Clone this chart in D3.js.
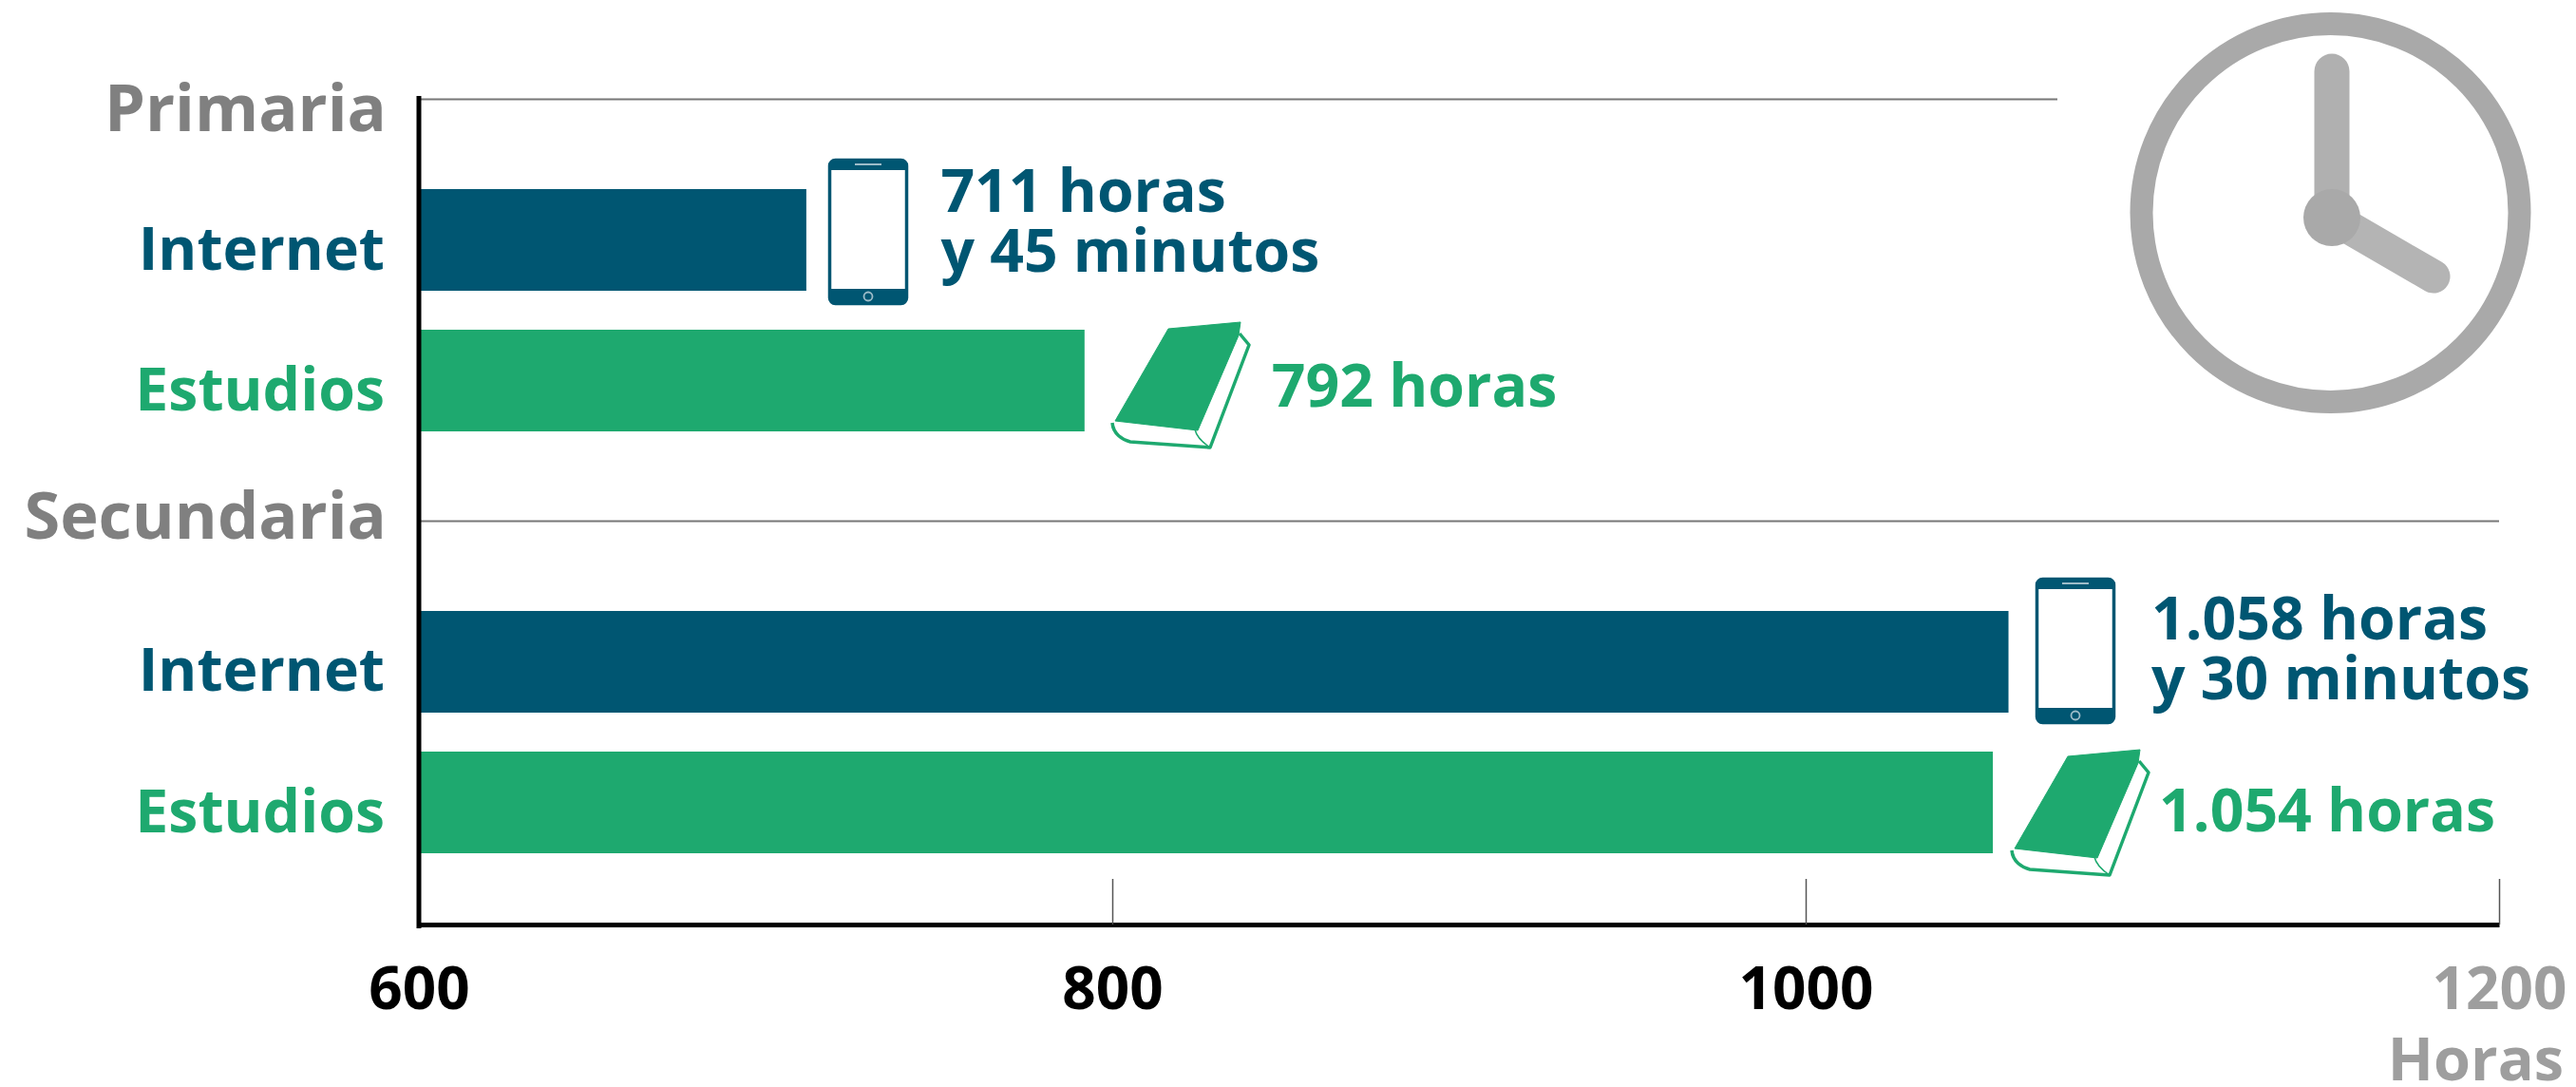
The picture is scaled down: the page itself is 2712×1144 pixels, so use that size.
<!DOCTYPE html>
<html>
<head>
<meta charset="utf-8">
<title>Horas de internet y de estudios</title>
<style>
  html, body { margin: 0; background: #fff; }
  svg { display: block; }
  text { font-family: "Open Sans", sans-serif; font-weight: 700; }
</style>
</head>
<body>
<script src="https://cdn.jsdelivr.net/npm/d3@7"></script>
<script>
var rows = ["primaria", "internet1", "estudios1", "secundaria", "internet2", "estudios2"];
var rowLabels = ["Primaria", "Internet", "Estudios", "Secundaria", "Internet", "Estudios"];
var barRows = ["internet1", "estudios1", "internet2", "estudios2"];
var barHours = [711.75, 792, 1058.5, 1054];
var barLabels = [
  ["711 horas", "y 45 minutos"],
  ["792 horas"],
  ["1.058 horas", "y 30 minutos"],
  ["1.054 horas"]
];
var hourTicks = [600, 800, 1000, 1200];
var axisTitle = "Horas";

var dark = "#005672", green = "#1ea96f", grey = "#808080", light = "#9e9e9e";

var svg = d3.select("body").append("svg")
    .attr("width", 2712)
    .attr("height", 1144);

var x = d3.scaleLinear().domain([600, 1200]).range([441, 2631]);
var y = d3.scaleBand().domain(rows).range([51, 898]).paddingInner(0.277).paddingOuter(0);

function rowColor(r) {
  if (r.indexOf("internet") == 0) return dark;
  if (r.indexOf("estudios") == 0) return green;
  return grey;
}

// group rules, the primaria one stops short of the clock
svg.append("line")
    .attr("x1", x(600)).attr("x2", 2166)
    .attr("y1", y("primaria") + y.bandwidth() / 2).attr("y2", y("primaria") + y.bandwidth() / 2)
    .attr("stroke", "#777").attr("stroke-width", 2);
svg.append("line")
    .attr("x1", x(600)).attr("x2", x(1200))
    .attr("y1", y("secundaria") + y.bandwidth() / 2).attr("y2", y("secundaria") + y.bandwidth() / 2)
    .attr("stroke", "#777").attr("stroke-width", 2);

// bars
svg.selectAll(".bar")
    .data(barRows)
  .enter().append("rect")
    .attr("class", "bar")
    .attr("x", x(600))
    .attr("y", d => y(d))
    .attr("width", (d, i) => x(barHours[i]) - x(600))
    .attr("height", y.bandwidth())
    .attr("fill", d => rowColor(d));

// x axis
var xAxis = d3.axisBottom(x)
    .tickValues(hourTicks)
    .tickSizeInner(-48)
    .tickSizeOuter(0)
    .tickPadding(0)
    .tickFormat(d3.format("d"));
var gx = svg.append("g")
    .attr("transform", "translate(0,973)")
    .call(xAxis);
gx.select(".domain").attr("stroke", "#000").attr("stroke-width", 5);
gx.selectAll(".tick line").attr("stroke", "#555").attr("stroke-width", 1.5);
gx.selectAll(".tick text")
    .attr("y", 89)
    .attr("dy", 0)
    .attr("font-size", 62)
    .attr("fill", d => d == 1200 ? light : "#000");

svg.append("text")
    .text(axisTitle)
    .attr("x", 2699)
    .attr("y", 1137)
    .attr("text-anchor", "end")
    .attr("font-size", 63)
    .attr("fill", light);

// y axis, labels sit a little under the band centre except Secundaria
var labelShift = [33.5, 31.5, 31.5, 18.5, 30.5, 31.5];
var yAxis = d3.axisLeft(y)
    .tickSize(0)
    .tickPadding(36)
    .tickFormat((d, i) => rowLabels[i]);
var gy = svg.append("g")
    .attr("transform", "translate(441,0)")
    .call(yAxis);
gy.select(".domain").remove();
gy.selectAll(".tick text")
    .attr("font-size", d => d == "primaria" || d == "secundaria" ? 68.5 : 62.5)
    .attr("dy", 0)
    .attr("x", d => d == "primaria" || d == "secundaria" ? -34 : -36)
    .attr("y", (d, i) => labelShift[i])
    .attr("fill", d => rowColor(d));
svg.append("line")
    .attr("x1", 441).attr("x2", 441)
    .attr("y1", 101).attr("y2", 977)
    .attr("stroke", "#000").attr("stroke-width", 5);

// value labels
var labelOffset = [141.5, 197, 150.5, 175];
var labelBase = [223, 428, 673, 875];
barRows.forEach(function(r, i) {
  var t = svg.append("text")
      .attr("x", x(barHours[i]) + labelOffset[i])
      .attr("y", labelBase[i])
      .attr("font-size", 62.5)
      .attr("fill", rowColor(r));
  barLabels[i].forEach(function(line, j) {
    t.append("tspan")
        .attr("x", x(barHours[i]) + labelOffset[i])
        .attr("dy", j ? 63 : 0)
        .text(line);
  });
});

// phone icons
function phone(px, py) {
  var g = svg.append("g").attr("transform", "translate(" + px + "," + py + ")");
  g.append("rect").attr("x", 1.5).attr("y", 1.5).attr("width", 81).attr("height", 151).attr("rx", 6)
      .attr("fill", "#fff").attr("stroke", dark).attr("stroke-width", 3.5);
  g.append("path").attr("d", "M3 12V6a5 5 0 0 1 5-5H76a5 5 0 0 1 5 5V12Z").attr("fill", dark);
  g.append("path").attr("d", "M2 137H82V147a6 6 0 0 1-6 6H8a6 6 0 0 1-6-6Z").attr("fill", dark);
  g.append("line").attr("x1", 28).attr("x2", 56).attr("y1", 6).attr("y2", 6).attr("stroke", "#9dbcc8").attr("stroke-width", 2);
  g.append("circle").attr("cx", 42).attr("cy", 145).attr("r", 4.5).attr("fill", "none").attr("stroke", "#9dbcc8").attr("stroke-width", 1.8);
}
phone(872, 167);
phone(2143, 608);

// book icons
function book(px, py) {
  var g = svg.append("g").attr("transform", "translate(" + px + "," + py + ")");
  g.append("path")
      .attr("d", "M3 106C4 118 14 124 22 126L106 132L147 24L137 12")
      .attr("fill", "#fff").attr("stroke", green).attr("stroke-width", 3.5).attr("stroke-linejoin", "round");
  g.append("path")
      .attr("d", "M90 113C92 122 100 128 106 132")
      .attr("fill", "none").attr("stroke", green).attr("stroke-width", 1.5);
  g.append("path")
      .attr("d", "M62 7L138 0L136 14L93 114L6 104Z")
      .attr("fill", green).attr("stroke", green).attr("stroke-width", 1).attr("stroke-linejoin", "round");
}
book(1168, 339);
book(2115, 789);

// clock
var clock = svg.append("g").attr("transform", "translate(2455,229)");
clock.append("circle").attr("cx", -1.5).attr("cy", -5).attr("r", 199)
    .attr("fill", "none").attr("stroke", "#a9a9a9").attr("stroke-width", 24);
clock.append("line").attr("x1", 0).attr("y1", 0).attr("x2", 0).attr("y2", -154)
    .attr("stroke", "#b0b0b0").attr("stroke-width", 37).attr("stroke-linecap", "round");
clock.append("line").attr("x1", 0).attr("y1", 0).attr("x2", 107).attr("y2", 62)
    .attr("stroke", "#b4b4b4").attr("stroke-width", 35).attr("stroke-linecap", "round");
clock.append("circle").attr("r", 30).attr("fill", "#a9a9a9");
</script>
</body>
</html>
